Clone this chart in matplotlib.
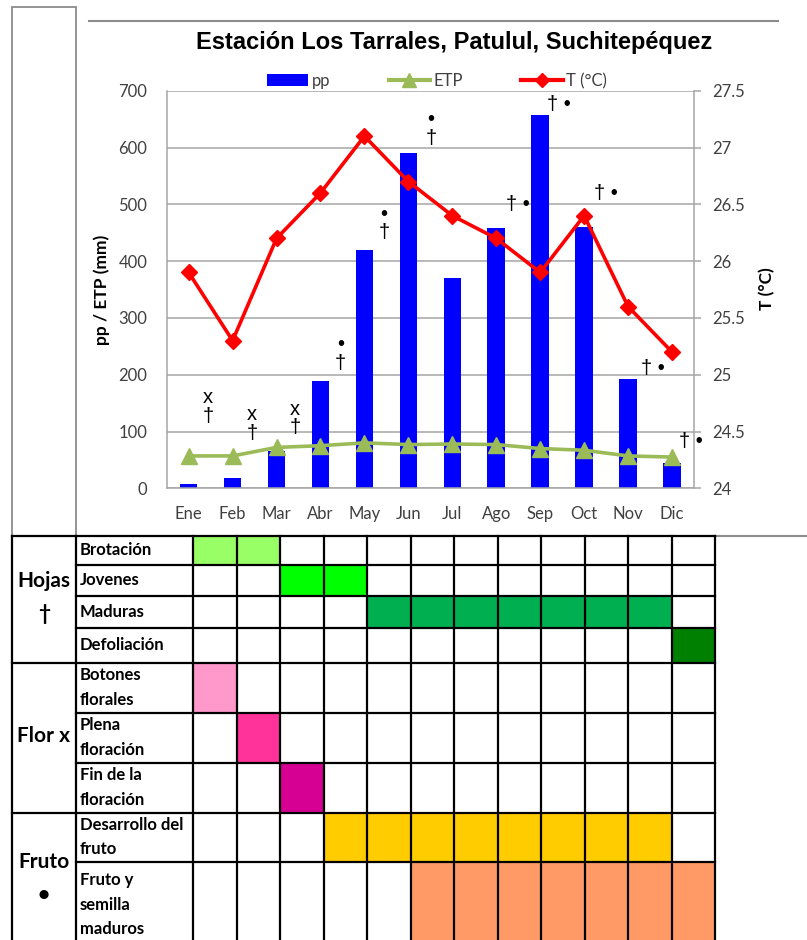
import matplotlib
matplotlib.use("Agg")
import matplotlib.pyplot as plt
from matplotlib.patches import Rectangle, Patch
from matplotlib.lines import Line2D
import numpy as np

plt.rcParams["font.family"] = ["Lato", "DejaVu Sans"]

# ---- climate data -------------------------------------------------------
months = ["Ene", "Feb", "Mar", "Abr", "May", "Jun", "Jul", "Ago", "Sep", "Oct", "Nov", "Dic"]
pp = [8, 18, 65, 189, 420, 590, 370, 458, 657, 460, 192, 44]
etp = [57, 57, 72, 75, 80, 77, 78, 77, 70, 67, 57, 55]
temp = [25.9, 25.3, 26.2, 26.6, 27.1, 26.7, 26.4, 26.2, 25.9, 26.4, 25.6, 25.2]

# phenology symbols over the chart: label, month position, height in mm
pheno_labels = ["x\n†", "x\n†", "x\n†", "•\n†", "•\n†", "•\n†",
                "† •", "† •", "† •", "† •", "† •"]
pheno_x = [0.44, 1.44, 2.42, 3.46, 4.45, 5.52, 7.50, 8.43, 9.50, 10.56, 11.43]
pheno_y = [143, 113, 123, 237, 466, 632, 499, 676, 519, 211, 83]

# ---- phenology calendar -------------------------------------------------
group_names = ["Hojas\n†", "Flor x", "Fruto\n•"]
stages = ["Brotación", "Jovenes", "Maduras", "Defoliación",
          "Botones\nflorales", "Plena\nfloración", "Fin de la\nfloración",
          "Desarrollo del\nfruto", "Fruto y\nsemilla\nmaduros"]
stage_group = [0, 0, 0, 0, 1, 1, 1, 2, 2]
stage_first = [0, 2, 4, 11, 0, 1, 2, 3, 5]
stage_last = [1, 3, 10, 11, 0, 1, 2, 10, 11]
stage_colors = ["#99FF66", "#00FF00", "#00B050", "#008000",
                "#FF99CC", "#FF3399", "#D60093", "#FFCC00", "#FF9966"]

W, H = 807, 940
fig = plt.figure(figsize=(W / 100, H / 100), dpi=100)
fig.patch.set_facecolor("white")


def fx(px):
    return px / W


def fy(py):
    return 1 - py / H


GRAY = "#A6A6A6"
TXT = "#404040"

# ---- chart --------------------------------------------------------------
left, right, top, bottom = 166.7, 694.0, 90.7, 488.3
ax = fig.add_axes([fx(left), fy(bottom), (right - left) / W, (bottom - top) / H], zorder=2)
x = np.arange(len(months))

ax.bar(x, pp, width=0.4, color="#0000FF", zorder=2)
ax.plot(x, etp, color="#9BBB59", lw=2.6, marker="^", ms=11, zorder=3)
ax.set_xlim(-0.5, 11.5)
ax.set_ylim(0, 700)
ax.set_yticks(np.arange(0, 701, 100))
ax.set_xticks(x)
ax.set_xticklabels(months)
ax.yaxis.grid(True, color=GRAY, lw=1.1)
ax.set_axisbelow(True)
ax.tick_params(axis="y", length=0, pad=14, labelsize=12, labelcolor=TXT)
ax.tick_params(axis="x", length=0, pad=13, labelsize=12, labelcolor=TXT)
for s in ("top", "right"):
    ax.spines[s].set_visible(False)
for s in ("left", "bottom"):
    ax.spines[s].set_color(GRAY)
    ax.spines[s].set_linewidth(1.1)

for lab, xi, yi in zip(pheno_labels, pheno_x, pheno_y):
    ax.text(xi, yi, lab, family=["Liberation Sans", "DejaVu Sans"], fontsize=14.5,
            ha="center", va="center", color="black", linespacing=0.98, zorder=5)

ax2 = ax.twinx()
ax2.plot(x, temp, color="#FF0000", lw=2.6, marker="D", ms=8, zorder=3)
ax2.set_ylim(24, 27.5)
t_ticks = np.arange(24, 27.51, 0.5)
ax2.set_yticks(t_ticks)
ax2.set_yticklabels([f"{v:g}" for v in t_ticks])
ax2.tick_params(axis="y", length=5, width=1.1, color=GRAY, pad=8,
                labelsize=12, labelcolor=TXT)
for s in ("top", "left", "bottom"):
    ax2.spines[s].set_visible(False)
ax2.spines["right"].set_color(GRAY)
ax2.spines["right"].set_linewidth(1.1)

fig.text(fx(454), fy(42), "Estación Los Tarrales, Patulul, Suchitepéquez",
         ha="center", va="center", fontsize=17, fontweight="bold",
         family=["Liberation Sans", "DejaVu Sans"])
fig.text(fx(102), fy(290), "pp / ETP (mm)", rotation=90, ha="center", va="center",
         fontsize=12.5, fontweight="bold")
fig.text(fx(767), fy(289), "T (°C)", rotation=90, ha="center", va="center",
         fontsize=12.5, fontweight="bold")

handles = [Patch(facecolor="#0000FF", edgecolor="none"),
           Line2D([], [], color="#9BBB59", lw=3, marker="^", ms=10),
           Line2D([], [], color="#FF0000", lw=3, marker="D", ms=7)]
fig.legend(handles, ["pp", "ETP", "T (°C)"], loc="center",
           bbox_to_anchor=(fx(437), fy(81)), ncol=3, frameon=False,
           fontsize=12, handlelength=2.5, handletextpad=0.2, columnspacing=3.5,
           borderaxespad=0, borderpad=0, labelcolor=TXT)

# ---- frame lines and phenology table ------------------------------------
ov = fig.add_axes([0, 0, 1, 1], zorder=1)
ov.set_xlim(0, W)
ov.set_ylim(H, 0)
ov.axis("off")
ov.patch.set_visible(False)

FRAME = "#8C8C8C"
ov.add_patch(Rectangle((11.7, 6.7), 76 - 11.7, 536 - 6.7, fill=False,
                       edgecolor=FRAME, lw=1.3))
ov.plot([89, 778], [21, 21], color=FRAME, lw=1.5)
ov.plot([715.3, W], [535.7, 535.7], color=FRAME, lw=1.5)

row_edges = [536, 564.7, 596, 627.7, 662.7, 712.7, 762.7, 812.7, 861.7, 948]
col_group, col_name, col_month = 11.7, 76.0, 193.3
cw = 43.5
month_edges = col_month + cw * np.arange(len(months) + 1)

for i, (f, l, c) in enumerate(zip(stage_first, stage_last, stage_colors)):
    ov.add_patch(Rectangle((month_edges[f], row_edges[i]), cw * (l - f + 1),
                           row_edges[i + 1] - row_edges[i],
                           facecolor=c, edgecolor="none"))

LW = 1.6
group_bounds = [0] + [i for i in range(1, len(stages)) if stage_group[i] != stage_group[i - 1]] + [len(stages)]
for i, yv in enumerate(row_edges):
    x0 = col_group if i in group_bounds else col_name
    ov.plot([x0, month_edges[-1]], [yv, yv], color="black", lw=LW, solid_capstyle="projecting")
for xv in [col_group, col_name] + list(month_edges):
    ov.plot([xv, xv], [row_edges[0], row_edges[-1]], color="black", lw=LW, solid_capstyle="projecting")

for i, name in enumerate(stages):
    yc = (row_edges[i] + row_edges[i + 1]) / 2
    ov.text(col_name + 4, yc, name, ha="left", va="center", fontsize=12,
            fontweight="bold", linespacing=1.65)

for g, gname in enumerate(group_names):
    rows = [i for i, sg in enumerate(stage_group) if sg == g]
    yc = (row_edges[rows[0]] + row_edges[rows[-1] + 1]) / 2
    ov.text((col_group + col_name) / 2, yc - 2, gname, ha="center", va="center",
            fontsize=15, fontweight="bold", linespacing=1.78)

fig.savefig("out.png", dpi=100, facecolor="white")
